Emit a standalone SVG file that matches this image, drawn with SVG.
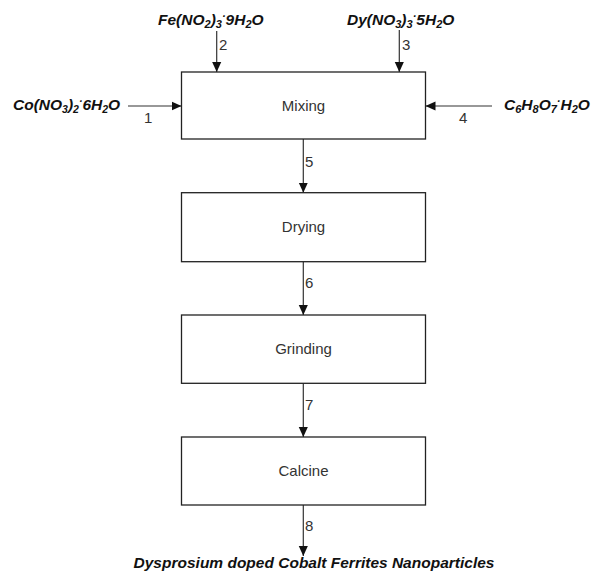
<svg xmlns="http://www.w3.org/2000/svg" width="600" height="572" viewBox="0 0 600 572">
<style>
.box{fill:#fff;stroke:#222;stroke-width:1.3}
.lbl{font-family:"Liberation Sans",Arial,sans-serif;font-size:15px;fill:#333;text-anchor:middle}
.num{font-family:"Liberation Sans",Arial,sans-serif;font-size:15px;fill:#333}
.chem{font-family:"Liberation Sans",Arial,sans-serif;font-size:15.5px;font-weight:bold;font-style:italic;fill:#111}
.ln{stroke:#333;stroke-width:1.2;fill:none;marker-end:url(#ah)}
</style>
<defs>
<marker id="ah" markerWidth="10" markerHeight="11" refX="11" refY="5" orient="auto" markerUnits="userSpaceOnUse" viewBox="0 0 11 10">
<path d="M0,0 L11,5 L0,10 z" fill="#111"/>
</marker>
</defs>
<rect width="600" height="572" fill="#fff"/>
<g id="connectors">
<line class="ln" x1="128" y1="106" x2="181.5" y2="106"/>
<line class="ln" x1="216.7" y1="31" x2="216.7" y2="72"/>
<line class="ln" x1="399.3" y1="30" x2="399.3" y2="72"/>
<line class="ln" x1="492" y1="106" x2="425.5" y2="106"/>
<line class="ln" x1="303.3" y1="139" x2="303.3" y2="192.7"/>
<line class="ln" x1="303.3" y1="261.7" x2="303.3" y2="315"/>
<line class="ln" x1="303.3" y1="383.3" x2="303.3" y2="437"/>
<line class="ln" x1="303.3" y1="505" x2="303.3" y2="556"/>
<text class="num" x="144" y="123">1</text>
<text class="num" x="219" y="50">2</text>
<text class="num" x="402" y="50">3</text>
<text class="num" x="459" y="123">4</text>
<text class="num" x="305" y="167">5</text>
<text class="num" x="305" y="288">6</text>
<text class="num" x="305" y="410">7</text>
<text class="num" x="305" y="531">8</text>
</g>
<g id="mixing"><rect class="box" x="181.5" y="72" width="244" height="67"/><text class="lbl" x="303.5" y="111">Mixing</text></g>
<g id="drying"><rect class="box" x="181.5" y="192.7" width="244" height="69"/><text class="lbl" x="303.5" y="232">Drying</text></g>
<g id="grinding"><rect class="box" x="181.5" y="315" width="244" height="68.3"/><text class="lbl" x="303.5" y="354">Grinding</text></g>
<g id="calcine"><rect class="box" x="181.5" y="437" width="244" height="68"/><text class="lbl" x="303.5" y="476">Calcine</text></g>
<g id="in-co"><text class="chem" x="13" y="110">Co(NO<tspan font-size="10.5" dy="3">3</tspan><tspan dy="-3">)</tspan><tspan font-size="10.5" dy="3">2</tspan><tspan font-size="10.5" dy="-8">·</tspan><tspan dy="5">6H</tspan><tspan font-size="10.5" dy="3">2</tspan><tspan dy="-3">O</tspan></text></g>
<g id="in-fe"><text class="chem" x="158" y="25" font-size="16.5">Fe(NO<tspan font-size="11" dy="3">2</tspan><tspan dy="-3">)</tspan><tspan font-size="11" dy="3">3</tspan><tspan font-size="11" dy="-8">·</tspan><tspan dy="5">9H</tspan><tspan font-size="11" dy="3">2</tspan><tspan dy="-3">O</tspan></text></g>
<g id="in-dy"><text class="chem" x="347" y="25" font-size="16.5">Dy(NO<tspan font-size="11" dy="3">3</tspan><tspan dy="-3">)</tspan><tspan font-size="11" dy="3">3</tspan><tspan font-size="11" dy="-8">·</tspan><tspan dy="5">5H</tspan><tspan font-size="11" dy="3">2</tspan><tspan dy="-3">O</tspan></text></g>
<g id="in-citric"><text class="chem" x="504" y="110" font-size="16.5">C<tspan font-size="11" dy="3">6</tspan><tspan dy="-3">H</tspan><tspan font-size="11" dy="3">8</tspan><tspan dy="-3">O</tspan><tspan font-size="11" dy="3">7</tspan><tspan font-size="11" dy="-8">·</tspan><tspan dy="5">H</tspan><tspan font-size="11" dy="3">2</tspan><tspan dy="-3">O</tspan></text></g>
<g id="product"><text class="chem" x="314" y="568" text-anchor="middle" font-size="14.7">Dysprosium doped Cobalt Ferrites Nanoparticles</text></g>
</svg>
